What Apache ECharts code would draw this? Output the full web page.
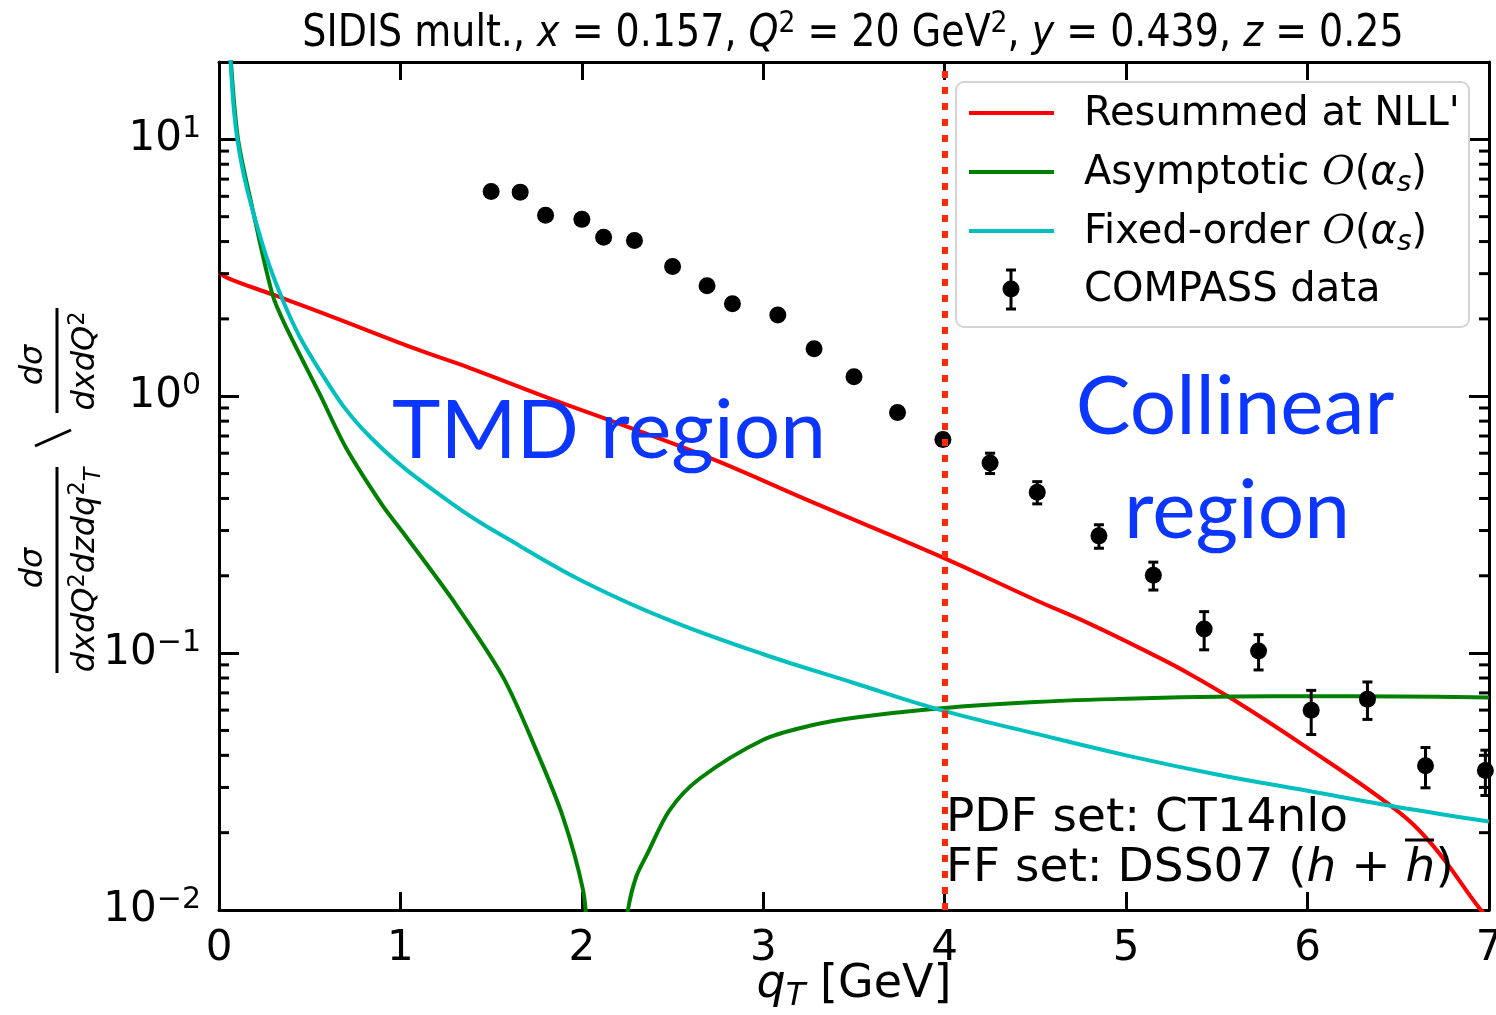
<!DOCTYPE html>
<html>
<head>
<meta charset="utf-8">
<script src="https://cdn.jsdelivr.net/npm/echarts@6/dist/echarts.min.js"></script>
<style>
  html, body { margin: 0; padding: 0; background: #fff; }
  #chart { width: 1496px; height: 1015px; }
</style>
</head>
<body>
<div id="chart"></div>
<script>
// COMPASS multiplicity points
const dataQT = [1.50, 1.66, 1.80, 2.00, 2.12, 2.29, 2.50, 2.69, 2.83, 3.08, 3.28, 3.50,
  3.74, 3.99, 4.25, 4.51, 4.85, 5.15, 5.43, 5.73, 6.02, 6.33, 6.65, 6.98];
const dataVal = [6.27, 6.23, 5.06, 4.88, 4.16, 4.04, 3.20, 2.69, 2.29, 2.07, 1.53, 1.19,
  0.864, 0.678, 0.550, 0.423, 0.286, 0.201, 0.124, 0.102, 0.0599, 0.0662, 0.0364, 0.0349];
const dataErr = [0.22, 0.22, 0.18, 0.17, 0.15, 0.14, 0.11, 0.10, 0.08, 0.07, 0.055, 0.045,
  0.04, 0.035, 0.05, 0.042, 0.030, 0.025, 0.021, 0.016, 0.0117, 0.011, 0.0065, 0.007];

// Resummed at NLL'
const resumX = [0, 0.055, 0.294, 0.6, 1.104, 1.38, 1.84, 2.208, 2.705, 3.3, 3.975, 4.5,
  4.8, 5.156, 5.35, 5.592, 5.946, 6.479, 6.691, 6.945, 7.0];
const resumY = [3.03, 2.87, 2.49, 2.07, 1.51, 1.29, 0.97, 0.78, 0.575, 0.379, 0.238, 0.161,
  0.130, 0.098, 0.083, 0.0658, 0.0453, 0.0248, 0.0178, 0.0102, 0.0093];

// Asymptotic O(alpha_s) (gap where it turns negative)
const asymX = [0.03, 0.066, 0.105, 0.184, 0.294, 0.368, 0.552, 0.70, 0.902, 1.012, 1.288,
  1.564, 1.748, 1.895, 2.006, 2.03, 2.14, 2.245, 2.254, 2.30, 2.36, 2.484, 2.65, 3.0, 3.25, 3.5,
  3.98, 4.5, 5.0, 5.6, 6.0, 6.5, 7.0];
const asymY = [60, 20, 10, 5.4, 2.5, 1.87, 1.03, 0.63, 0.375, 0.296, 0.161,
  0.081, 0.042, 0.0231, 0.012, 0.008, null, 0.008, 0.01, 0.0135, 0.0165, 0.0245, 0.0325, 0.046, 0.052, 0.056,
  0.061, 0.0645, 0.0665, 0.0678, 0.068, 0.0678, 0.0672];

// Fixed-order O(alpha_s)
const fixedX = [0.03, 0.064, 0.101, 0.184, 0.35, 0.552, 0.828, 1.288, 1.656, 2.024, 2.484,
  3.0, 3.5, 3.98, 4.5, 5.0, 5.5, 6.0, 6.479, 7.0];
const fixedY = [60, 20, 10, 5.33, 2.38, 1.27, 0.70, 0.38, 0.262, 0.1875, 0.134,
  0.099, 0.0765, 0.060, 0.0486, 0.040, 0.0337, 0.0291, 0.0253, 0.0221];

const yMinorTicks = [0.02, 0.03, 0.04, 0.05, 0.06, 0.07, 0.08, 0.09,
  0.2, 0.3, 0.4, 0.5, 0.6, 0.7, 0.8, 0.9, 2, 3, 4, 5, 6, 7, 8, 9];
const boundaryQT = 4;

const FONT = 'DejaVu Sans';
const BLUE = '#0a36ff';
const pairs = (xs, ys) => xs.map((x, i) => [x, ys[i]]);

const chart = echarts.init(document.getElementById('chart'));

const axisLineStyle = { color: '#000', width: 3 };
const xAxisBase = {
  type: 'value', min: 0, max: 7, interval: 1,
  axisLine: { onZero: false, lineStyle: axisLineStyle },
  axisTick: { inside: true, length: 18, lineStyle: { color: '#000', width: 3 } },
  splitLine: { show: false }
};
const yAxisBase = {
  type: 'log', logBase: 10, min: 0.01, max: 20,
  axisLine: { onZero: false, lineStyle: axisLineStyle },
  axisTick: { inside: true, length: 20, lineStyle: { color: '#000', width: 3 } },
  splitLine: { show: false }
};

const mathRich = (size) => ({
  n: { fontFamily: FONT, fontSize: size, color: '#000', lineHeight: size * 1.2 },
  i: { fontFamily: FONT, fontStyle: 'italic', fontSize: size, color: '#000', lineHeight: size * 1.2 },
  c: { fontFamily: 'DejaVu Serif', fontStyle: 'italic', fontSize: size, color: '#000', lineHeight: size * 1.2 },
  sup: { fontFamily: FONT, fontSize: size * 0.7, color: '#000', verticalAlign: 'top', lineHeight: size * 0.7 },
  sub: { fontFamily: FONT, fontStyle: 'italic', fontSize: size * 0.7, color: '#000', verticalAlign: 'bottom', lineHeight: size * 0.7 }
});

const rtext = (x, y, text, size, align, extra) => Object.assign({
  type: 'text', x: x, y: y, z: 100,
  style: { text: text, rich: mathRich(size), align: align || 'left', verticalAlign: 'middle' }
}, extra || {});
const blueText = (x, y, text, align) => ({
  type: 'text', x: x, y: y, z: 100,
  style: { text: text, font: '82px Lato', fill: BLUE, align: align, verticalAlign: 'middle' }
});
const seg = (x1, y1, x2, y2, color, w) => ({
  type: 'line', z: 100, shape: { x1: x1, y1: y1, x2: x2, y2: y2 },
  style: { stroke: color || '#000', lineWidth: w || 3 }
});

const legendRows = [
  { y: 113, color: '#ff0000', label: "{n|Resummed at NLL'}" },
  { y: 172, color: '#008000', label: '{n|Asymptotic }{c|O}{n|(}{i|α}{sub|s}{n|)}' },
  { y: 231, color: '#00bfbf', label: '{n|Fixed-order }{c|O}{n|(}{i|α}{sub|s}{n|)}' }
];

const graphics = [
  // title (source glyphs are slightly condensed)
  rtext(853, 35, '{n|SIDIS mult., }{i|x}{n| = 0.157, }{i|Q}{sup|2}{n| = 20 GeV}{sup|2}{n|, }{i|y}{n| = 0.439, }{i|z}{n| = 0.25}',
    38, 'center', { scaleY: 1.15 }),
  // legend frame
  { type: 'rect', z: 90, shape: { x: 956, y: 82, width: 513, height: 245, r: 8 },
    style: { fill: 'rgba(255,255,255,0.85)', stroke: '#d4d4d4', lineWidth: 2 } },
  // errorbar legend glyph
  seg(1011, 270, 1011, 309), seg(1006, 270, 1016, 270), seg(1006, 309, 1016, 309),
  { type: 'circle', z: 100, shape: { cx: 1011, cy: 289, r: 8.5 }, style: { fill: '#000' } },
  rtext(1084, 291, '{n|COMPASS data}', 40),
  // region annotations
  blueText(392, 432, 'TMD region', 'left'),
  blueText(1235, 408, 'Collinear', 'center'),
  blueText(1237, 512, 'region', 'center'),
  // PDF / FF sets
  rtext(946, 819, '{n|PDF set: CT14nlo}', 47),
  rtext(946, 869, '{n|FF set: DSS07 (}{i|h}{n| + }{i|h}{n|)}', 47),
  seg(1405, 840, 1434, 840, '#000', 3),
  // y axis label (rotated fractions)
  { type: 'text', x: 34, y: 568, rotation: Math.PI / 2, z: 100,
    style: { text: '{i|dσ}', rich: mathRich(32), align: 'center', verticalAlign: 'middle' } },
  seg(57, 467, 57, 673),
  { type: 'text', x: 86, y: 570, rotation: Math.PI / 2, z: 100,
    style: { text: '{i|dxdQ}{sup|2}{i|dzdq}{sup|2}{sub|T}', rich: mathRich(32), align: 'center', verticalAlign: 'middle' } },
  seg(35, 446, 71, 430),
  { type: 'text', x: 34, y: 365, rotation: Math.PI / 2, z: 100,
    style: { text: '{i|dσ}', rich: mathRich(32), align: 'center', verticalAlign: 'middle' } },
  seg(57, 308, 57, 413),
  { type: 'text', x: 86, y: 361, rotation: Math.PI / 2, z: 100,
    style: { text: '{i|dxdQ}{sup|2}', rich: mathRich(32), align: 'center', verticalAlign: 'middle' } }
];
legendRows.forEach(r => {
  graphics.push(seg(969, r.y, 1054, r.y, r.color, 4));
  graphics.push(rtext(1084, r.y + 2, r.label, 40));
});

const lineSeries = (name, data, color, smooth) => ({
  name: name, type: 'line', data: data, showSymbol: false, smooth: smooth,
  connectNulls: false, clip: true, silent: true, z: 2,
  lineStyle: { color: color, width: 4 }
});

const option = {
  animation: false,
  backgroundColor: '#fff',
  grid: { left: 219, top: 62, width: 1270, height: 848, containLabel: false, outerBoundsMode: 'none' },
  xAxis: [
    Object.assign({}, xAxisBase, {
      position: 'bottom',
      axisLabel: { color: '#000', fontFamily: FONT, fontSize: 42, margin: 18 },
      name: '{i|q}{sub|T}{n| [GeV]}', nameLocation: 'middle', nameGap: 47, nameMoveOverlap: false,
      nameTextStyle: { rich: mathRich(46) }
    }),
    Object.assign({}, xAxisBase, { position: 'top', axisLabel: { show: false } })
  ],
  yAxis: [
    Object.assign({}, yAxisBase, {
      position: 'left',
      axisLabel: {
        margin: 18, color: '#000',
        formatter: v => {
          const e = Math.log10(v);
          const r = Math.round(e);
          if (Math.abs(e - r) > 1e-6) return '';
          return '{b|10}{s|' + String(r).replace('-', '−') + '}';
        },
        rich: {
          b: { fontFamily: FONT, fontSize: 42, color: '#000', lineHeight: 50 },
          s: { fontFamily: FONT, fontSize: 30, color: '#000', verticalAlign: 'top', lineHeight: 30 }
        }
      }
    }),
    Object.assign({}, yAxisBase, { position: 'right', axisLabel: { show: false } })
  ],
  graphic: graphics,
  series: [
    lineSeries('Resummed', pairs(resumX, resumY), '#ff0000', 0.4),
    lineSeries('Asymptotic', pairs(asymX, asymY), '#008000', 0.3),
    lineSeries('Fixed-order', pairs(fixedX, fixedY), '#00bfbf', 0.4),
    {
      name: 'errors', type: 'custom', silent: true, z: 3,
      data: dataQT.map((x, i) => [x, dataVal[i], dataErr[i]]),
      encode: { x: 0, y: 1 },
      renderItem: (params, api) => {
        const x = api.value(0), y = api.value(1), e = api.value(2);
        const hi = api.coord([x, y + e]);
        const lo = api.coord([x, y - e]);
        const st = { stroke: '#000', lineWidth: 3 };
        const cap = 5;
        return { type: 'group', children: [
          { type: 'line', shape: { x1: hi[0], y1: hi[1], x2: lo[0], y2: lo[1] }, style: st },
          { type: 'line', shape: { x1: hi[0] - cap, y1: hi[1], x2: hi[0] + cap, y2: hi[1] }, style: st },
          { type: 'line', shape: { x1: lo[0] - cap, y1: lo[1], x2: lo[0] + cap, y2: lo[1] }, style: st }
        ] };
      }
    },
    {
      name: 'COMPASS data', type: 'scatter', silent: true, z: 3,
      data: pairs(dataQT, dataVal), symbol: 'circle', symbolSize: 17,
      itemStyle: { color: '#000', opacity: 1 }
    },
    {
      name: 'boundary', type: 'line', silent: true, z: 4, data: [[boundaryQT, 1]],
      showSymbol: false, lineStyle: { opacity: 0 },
      markLine: {
        silent: true, symbol: 'none', label: { show: false },
        lineStyle: { color: '#ff2a0a', width: 6, type: [7, 9], cap: 'butt', opacity: 1 },
        data: [{ xAxis: boundaryQT }]
      }
    },
    {
      name: 'minor ticks', type: 'custom', silent: true, clip: false, z: 5,
      data: yMinorTicks.map(v => [0, v]),
      encode: { x: 0, y: 1 },
      renderItem: (params, api) => {
        const v = api.value(1);
        const l = api.coord([0, v]);
        const r = api.coord([7, v]);
        const st = { stroke: '#000', lineWidth: 3 };
        return { type: 'group', children: [
          { type: 'line', shape: { x1: l[0], y1: l[1], x2: l[0] + 10, y2: l[1] }, style: st },
          { type: 'line', shape: { x1: r[0], y1: r[1], x2: r[0] - 10, y2: r[1] }, style: st }
        ] };
      }
    }
  ]
};

chart.setOption(option);
</script>
</body>
</html>
